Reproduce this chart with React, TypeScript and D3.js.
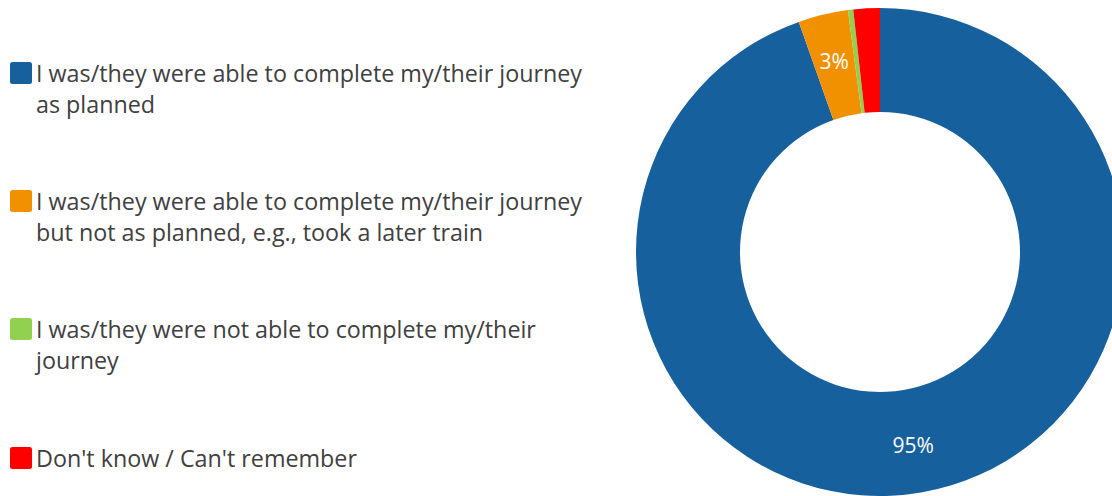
import React from "react";
import * as d3 from "d3";

const categories = [
  "I was/they were able to complete my/their journey as planned",
  "I was/they were able to complete my/their journey but not as planned, e.g., took a later train",
  "I was/they were not able to complete my/their journey",
  "Don't know / Can't remember",
];
const legendLines = [
  ["I was/they were able to complete my/their journey", "as planned"],
  ["I was/they were able to complete my/their journey", "but not as planned, e.g., took a later train"],
  ["I was/they were not able to complete my/their", "journey"],
  ["Don't know / Can't remember"],
];
const values = [94.6, 3.3, 0.35, 1.75];
const labels = ["95%", "3%", "", ""];
const colors = ["#17609E", "#F29100", "#92D050", "#FF0000"];

const W = 1112;
const H = 496;
const cx = 880;
const cy = 252;
const outerR = 244;
const innerR = 140;
const labelR = 196;
const legendTop = [62, 190, 318, 447];

export default function App() {
  const pie = d3.pie<number>().sort(null).value((d) => d)(values);
  const arc = d3.arc<d3.PieArcDatum<number>>().innerRadius(innerR).outerRadius(outerR);
  const labelArc = d3.arc<d3.PieArcDatum<number>>().innerRadius(labelR).outerRadius(labelR);
  const font = "'Open Sans', sans-serif";
  return (
    <svg width={W} height={H} style={{ position: "absolute", left: 0, top: 0 }}>
      <rect width={W} height={H} fill="#fff" />
      <g transform={`translate(${cx},${cy})`}>
        {pie.map((p, i) => (
          <path key={i} d={arc(p) || ""} fill={colors[i]} />
        ))}
        {pie.map((p, i) => {
          const [x, y] = labelArc.centroid(p);
          return labels[i] ? (
            <text key={i} x={x} y={y} fill="#fff" fontFamily={font} fontSize={21}
              textAnchor="middle" dominantBaseline="central">{labels[i]}</text>
          ) : null;
        })}
      </g>
      {categories.map((c, i) => (
        <g key={c}>
          <rect x={10} y={legendTop[i]} width={22} height={22} rx={2.5} fill={colors[i]} />
          {legendLines[i].map((ln, j) => (
            <text key={j} x={36} y={legendTop[i] + 20 + j * 31} fill="#404040"
              fontFamily={font} fontSize={23.3}>{ln}</text>
          ))}
        </g>
      ))}
    </svg>
  );
}
